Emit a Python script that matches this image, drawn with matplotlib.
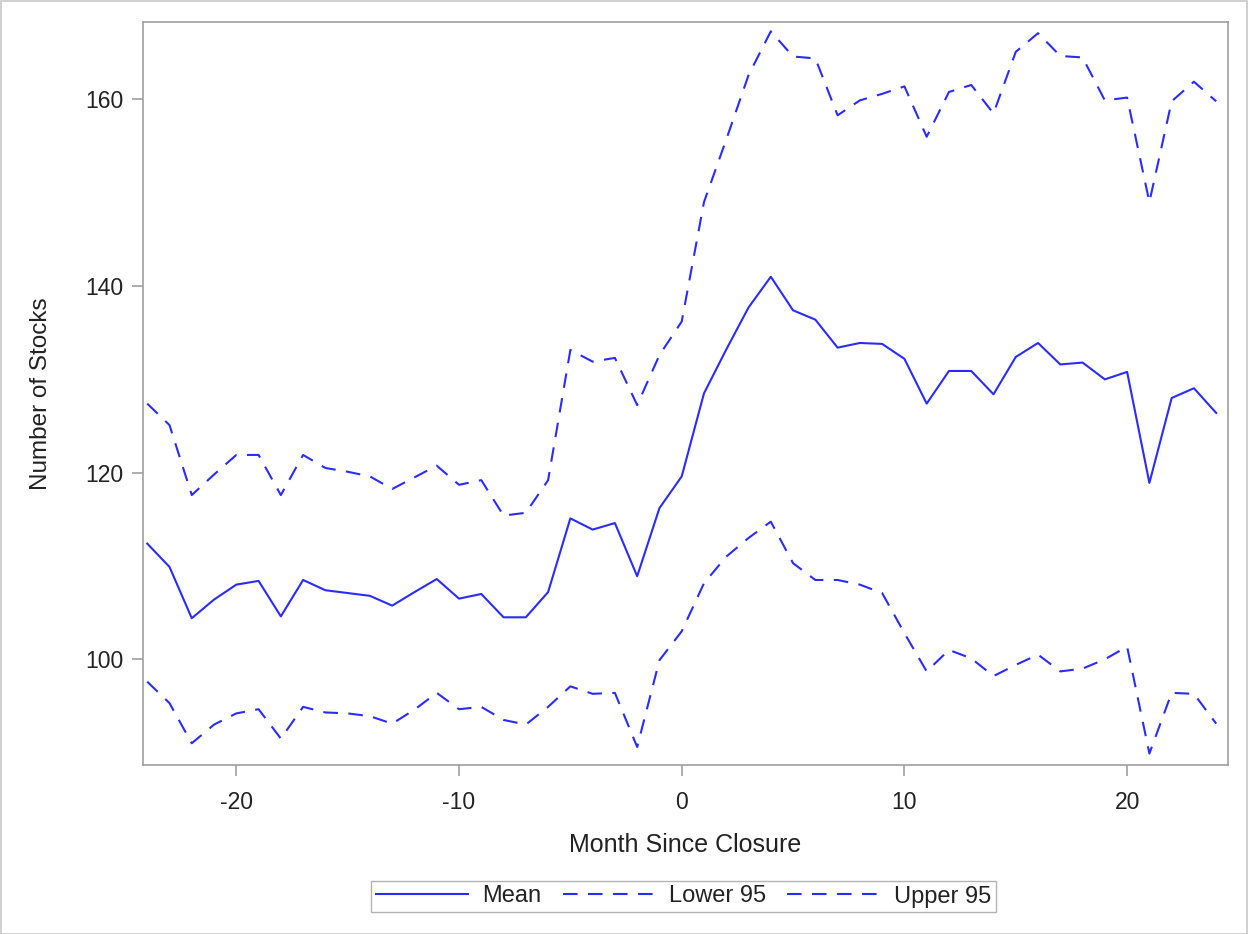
import matplotlib
matplotlib.use("Agg")
import matplotlib.pyplot as plt
from matplotlib.patches import Rectangle

plt.rcParams['font.family'] = ['Liberation Sans', 'DejaVu Sans']
plt.rcParams['axes.unicode_minus'] = False

months = list(range(-24, 25))

mean = [112.4, 109.9, 104.4, 106.4, 108.0, 108.4, 104.6, 108.5, 107.4, 107.1,
        106.8, 105.75, 107.2, 108.6, 106.5, 107.0, 104.5, 104.5, 107.2, 115.1,
        113.9, 114.6, 108.9, 116.2, 119.6, 128.5, 133.2, 137.7, 141.0, 137.4,
        136.4, 133.4, 133.9, 133.8, 132.2, 127.4, 130.9, 130.9, 128.4, 132.4,
        133.9, 131.6, 131.8, 130.0, 130.8, 118.9, 128.0, 129.05, 126.4]

lower = [97.6, 95.3, 91.0, 93.0, 94.2, 94.65, 91.5, 94.9, 94.3, 94.2,
         93.9, 93.1, 94.6, 96.4, 94.65, 94.9, 93.5, 93.0, 94.9, 97.1,
         96.3, 96.4, 90.6, 99.9, 103.0, 108.15, 111.0, 113.0, 114.75, 110.3,
         108.5, 108.5, 108.0, 107.1, 102.8, 98.7, 101.0, 100.1, 98.2, 99.4,
         100.5, 98.7, 99.0, 100.0, 101.35, 89.9, 96.4, 96.3, 93.1]

upper = [127.4, 125.1, 117.6, 119.8, 121.9, 121.9, 117.6, 121.9, 120.5, 120.1,
         119.6, 118.25, 119.5, 120.75, 118.7, 119.2, 115.4, 115.7, 119.2, 133.15,
         131.9, 132.3, 127.25, 132.6, 136.2, 149.0, 155.7, 162.6, 167.3, 164.6,
         164.4, 158.3, 159.9, 160.6, 161.4, 156.0, 160.8, 161.55, 158.5, 165.1,
         167.1, 164.66, 164.5, 159.9, 160.2, 149.0, 159.8, 161.9, 159.8]

xticks = [-20, -10, 0, 10, 20]
yticks = [100, 120, 140, 160]

W, H = 1248, 934
fig = plt.figure(figsize=(W / 100, H / 100), dpi=100)
fig.patches.append(Rectangle((0.5 / W, 0.5 / H), 1 - 1.5 / W, 1 - 1.5 / H,
                             transform=fig.transFigure, fill=False,
                             edgecolor='#c8c8c8', linewidth=1.2))

ax = fig.add_axes([143 / W, 1 - 765 / H, (1228 - 143) / W, (765 - 22) / H])

col = '#2b2bff'
l1, = ax.plot(months, mean, color=col, lw=1.5, label='Mean')
l2, = ax.plot(months, lower, color=col, lw=1.5, dashes=(7, 5), label='Lower 95')
l3, = ax.plot(months, upper, color=col, lw=1.5, dashes=(7, 5), label='Upper 95')

ax.set_xlim(-24.19, 24.53)
ax.set_ylim(88.67, 168.3)
ax.set_xticks(xticks)
ax.set_yticks(yticks)

for s in ax.spines.values():
    s.set_color('#a0a0a0')
    s.set_linewidth(1.2)
ax.tick_params(colors='#a0a0a0', labelcolor='#222222', labelsize=16.5,
               length=8, width=1.2, direction='out')
ax.tick_params(axis='x', pad=10.5)
ax.tick_params(axis='y', pad=6)

ax.set_xlabel('Month Since Closure', fontsize=18, color='#222222', labelpad=14)
ax.set_ylabel('Number of Stocks', fontsize=17.5, color='#222222', labelpad=24)

leg = fig.legend(handles=[l1, l2, l3], loc='center', ncol=3,
                 bbox_to_anchor=(683.5 / W, 1 - 896.5 / H), fontsize=17,
                 frameon=True, fancybox=False, handlelength=3.9,
                 columnspacing=0.9, handletextpad=0.6, borderpad=0.2,
                 borderaxespad=0.0)
leg.get_frame().set_edgecolor('#a0a0a0')
leg.get_frame().set_linewidth(1.0)
for t in leg.get_texts():
    t.set_color('#222222')

fig.savefig('out.png', dpi=100)
